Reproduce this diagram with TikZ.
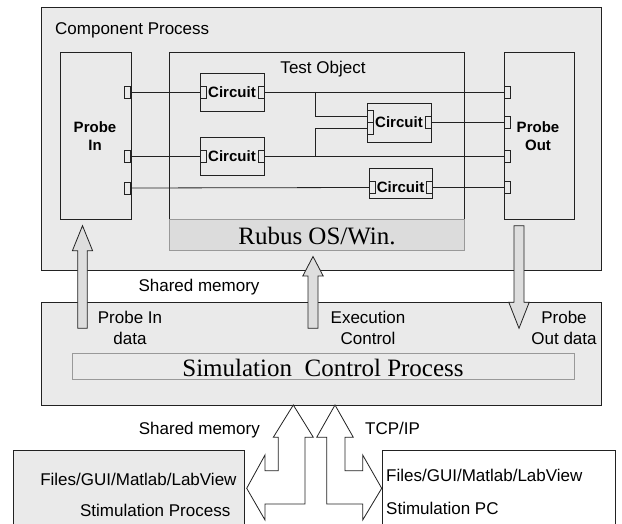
\documentclass[tikz,border=0pt]{standalone}
\usepackage{fontspec}
\setmainfont{Liberation Serif}
\setsansfont{Liberation Sans}
\definecolor{bgray}{HTML}{EAEAEA}
\definecolor{rgray}{HTML}{DCDCDC}
\definecolor{agray}{HTML}{DEDEDE}
\definecolor{ink}{HTML}{222222}
\begin{document}
\begin{tikzpicture}[x=1pt,y=-1pt,
  box/.style={draw=ink, line width=0.8pt, inner sep=0pt, outer sep=0pt, anchor=north west},
  bar/.style={draw=black!40, line width=0.8pt, inner sep=0pt, outer sep=0pt, anchor=north west},
  port/.style={draw=ink, fill=bgray, line width=0.7pt, minimum width=6pt, minimum height=12pt, inner sep=0pt, outer sep=0pt},
  wire/.style={draw=ink, line width=0.8pt},
  lbl/.style={font=\sffamily\fontsize{17}{20}\selectfont, inner sep=0pt},
  blbl/.style={font=\sffamily\bfseries\fontsize{15}{18}\selectfont, inner sep=0pt},
  serif/.style={font=\rmfamily\fontsize{25}{28}\selectfont, inner sep=0pt},
  blockarrow/.style={draw=ink, line width=0.8pt, fill=agray, line join=miter},
  hollowarrow/.style={draw=ink, line width=0.8pt, fill=white, line join=miter}
]
\useasboundingbox (0,0) rectangle (622,524);
\clip (0,0) rectangle (622,524);
\fill[white] (0,0) rectangle (622,524);

% ---------------- Component process ----------------
\node[box, fill=bgray, minimum width=560pt, minimum height=263pt] (comp) at (41,7) {};
\node[lbl, anchor=base west] (comptitle) at (55,35) {Component Process};

% probe blocks
\node[box, fill=bgray, minimum width=71pt, minimum height=167pt] (probein) at (60,52) {};
\node[blbl, anchor=base] (pinA) at (95,132.7) {Probe};
\node[blbl, anchor=base] (pinB) at (95,150.7) {In};
\node[box, fill=bgray, minimum width=70pt, minimum height=167pt] (probeout) at (504,52) {};
\node[blbl, anchor=base] (poutA) at (538,132.7) {Probe};
\node[blbl, anchor=base] (poutB) at (538,150.7) {Out};

% test object with OS bar
\node[box, fill=bgray, minimum width=295pt, minimum height=167pt] (testobj) at (169.3,52) {};
\node[lbl, anchor=base] (testtitle) at (323,74) {Test Object};
\node[bar, fill=rgray, minimum width=295pt, minimum height=31.7pt] (rubus) at (169.3,219) {};
\node[serif, anchor=base] (rubustxt) at (317,245) {Rubus OS/Win.};

% circuits
\node[box, fill=bgray, minimum width=64pt, minimum height=38pt] (c1) at (200,73) {};
\node[box, fill=bgray, minimum width=64pt, minimum height=38pt] (c2) at (200,137) {};
\node[box, fill=bgray, minimum width=64pt, minimum height=39pt] (c3) at (367,103) {};
\node[box, fill=bgray, minimum width=63pt, minimum height=30pt] (c4) at (369,168) {};
\node[blbl] (c1t) at (232,92) {Circuit};
\node[blbl] (c2t) at (232,156) {Circuit};
\node[blbl] (c3t) at (399,122.5) {Circuit};
\node[blbl] (c4t) at (400.5,187) {Circuit};

% ports
\node[port] (pi1) at (127.8,92) {};
\node[port] (pi2) at (127.8,156) {};
\node[port] (pi3) at (127.8,188) {};
\node[port] (po1) at (507,92) {};
\node[port] (po2) at (507,122.5) {};
\node[port] (po3) at (507,156) {};
\node[port] (po4) at (507,187.5) {};
\node[port] (c1a) at (203,92) {};
\node[port] (c1b) at (261,92) {};
\node[port] (c2a) at (203,156) {};
\node[port] (c2b) at (261,156) {};
\node[port] (c3a) at (370,116.5) {};
\node[port] (c3b) at (370,128.5) {};
\node[port] (c3c) at (428,122.5) {};
\node[port] (c4a) at (372,187.5) {};
\node[port] (c4b) at (429,187.5) {};

% wiring
\coordinate (j1) at (315.3,92);
\coordinate (j2) at (315.3,156);
\draw[wire] (pi1.east) -- (c1a.west);
\draw[wire] (pi2.east) -- (c2a.west);
\draw[wire] (pi3.east) -- (c4a.west);
\draw[wire] (c1b.east) -- (po1.west);
\draw[wire] (c2b.east) -- (po3.west);
\draw[wire] (c2b.east) -- (j2);
\draw[wire] (j1) |- (c3a.west);
\draw[wire] (j2) |- (c3b.west);
\draw[wire] (c3c.east) -- (po2.west);
\draw[wire] (c4b.east) -- (po4.west);

% ---------------- Simulation control process ----------------
\node[box, fill=bgray, minimum width=560pt, minimum height=103pt] (scp) at (41,302.3) {};
\node[bar, fill=bgray, minimum width=501.6pt, minimum height=26pt] (scpbar) at (72.7,353.5) {};
\node[serif, anchor=base] (scptxt) at (323,376) {Simulation\ \ Control Process};

\node[lbl, anchor=base] (shm1) at (199,291) {Shared memory};
\node[lbl, anchor=base] (pidA) at (130,323.3) {Probe In};
\node[lbl, anchor=base] (pidB) at (130,344) {data};
\node[lbl, anchor=base] (ecA) at (368,323.3) {Execution};
\node[lbl, anchor=base] (ecB) at (368,344) {Control};
\node[lbl, anchor=base] (podA) at (564,323.3) {Probe};
\node[lbl, anchor=base] (podB) at (564,344) {Out data};

% data arrows between the two processes
\draw[blockarrow] (82.5,225.7) -- (92.6,250.7) -- (87.3,250.7) -- (87.3,328.3)
  -- (77.7,328.3) -- (77.7,250.7) -- (72.4,250.7) -- cycle;
\draw[blockarrow] (313,256.5) -- (323.2,276) -- (318,276) -- (318,328.3)
  -- (308,328.3) -- (308,276) -- (302.8,276) -- cycle;
\draw[blockarrow] (514,225.7) -- (524,225.7) -- (524,302.3) -- (529.2,302.3)
  -- (519,328.3) -- (508.8,302.3) -- (514,302.3) -- cycle;

% ---------------- stimulation side ----------------
\node[box, fill=bgray, minimum width=231pt, minimum height=90pt] (stimproc) at (13.3,450.7) {};
\node[lbl, anchor=base east] (spA) at (236.7,485) {Files/GUI/Matlab/LabView};
\node[lbl, anchor=base east] (spB) at (230.5,516.7) {Stimulation Process};
\node[box, fill=white, minimum width=232.3pt, minimum height=90pt] (stimpc) at (382.7,450.7) {};
\node[lbl, anchor=base west] (pcA) at (386,481.7) {Files/GUI/Matlab/LabView};
\node[lbl, anchor=base west] (pcB) at (386,514.3) {Stimulation PC};

\node[lbl, anchor=base east] (shm2) at (260,434.3) {Shared memory};
\node[lbl, anchor=base west] (tcp) at (365,434.3) {TCP/IP};

% double-headed bent arrows
\draw[hollowarrow] (293.3,405) -- (313.3,437.3) -- (305,437.3) -- (305,504)
  -- (265,504) -- (265,520) -- (246.7,488.3) -- (265,455) -- (265,470.7)
  -- (278.3,470.7) -- (278.3,437.3) -- (273.3,437.3) -- cycle;
\draw[hollowarrow] (335,405) -- (353.3,437.3) -- (345,437.3) -- (345,470.7)
  -- (362.7,470.7) -- (362.7,455) -- (381.7,488.3) -- (362.7,520) -- (362.7,504)
  -- (326.7,504) -- (326.7,437.3) -- (316.7,437.3) -- cycle;
\end{tikzpicture}
\end{document}
